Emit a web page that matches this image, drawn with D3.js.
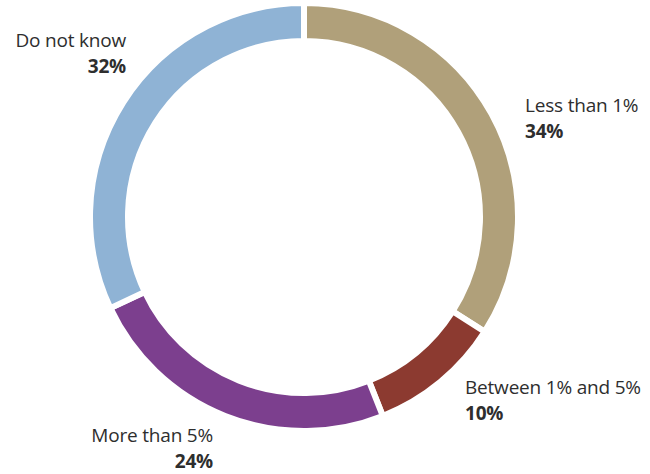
<!DOCTYPE html>
<html><head><meta charset="utf-8">
<script src="https://cdn.jsdelivr.net/npm/d3@7"></script>
<style>html,body{margin:0;padding:0;background:#fff;}svg{display:block;}</style>
</head><body>
<svg id="chart" width="650" height="474"></svg>
<script>
const categories = ["Less than 1%", "Between 1% and 5%", "More than 5%", "Do not know"];
const values = [34, 10, 24, 32];
const valueLabels = ["34%", "10%", "24%", "32%"];
const colors = ["#b0a07a", "#8c3a30", "#7c3f8e", "#8fb3d5"];

const svg = d3.select("#chart");
const cx = 304, cy = 217, R = 214, r = 176;
const g = svg.append("g").attr("transform", `translate(${cx},${cy})`);
const pie = d3.pie().sort(null).value(d => d)(values);
const arc = d3.arc().innerRadius(r).outerRadius(R);
g.selectAll("path").data(pie).join("path")
  .attr("d", arc)
  .attr("fill", (d,i) => colors[i])
  .attr("stroke", "#fff").attr("stroke-width", 6).attr("stroke-linejoin", "miter");

const labelPos = [
  {x: 525, y: 112, anchor: "start"},
  {x: 465, y: 394, anchor: "start"},
  {x: 213, y: 442, anchor: "end"},
  {x: 126, y: 47, anchor: "end"}
];
const font = "'Open Sans', 'Noto Sans', sans-serif";
categories.forEach((c, i) => {
  const p = labelPos[i];
  svg.append("text").attr("x", p.x).attr("y", p.y)
    .attr("text-anchor", p.anchor).attr("font-family", font)
    .attr("font-size", 19).attr("fill", "#2e2e2e").style("letter-spacing", "-0.2px")
    .text(c);
  svg.append("text").attr("x", p.x).attr("y", p.y + 26)
    .attr("text-anchor", p.anchor).attr("font-family", font)
    .attr("font-size", 19).attr("font-weight", "bold").attr("fill", "#2e2e2e")
    .style("letter-spacing", "-0.2px")
    .text(valueLabels[i]);
});
</script>
</body></html>
